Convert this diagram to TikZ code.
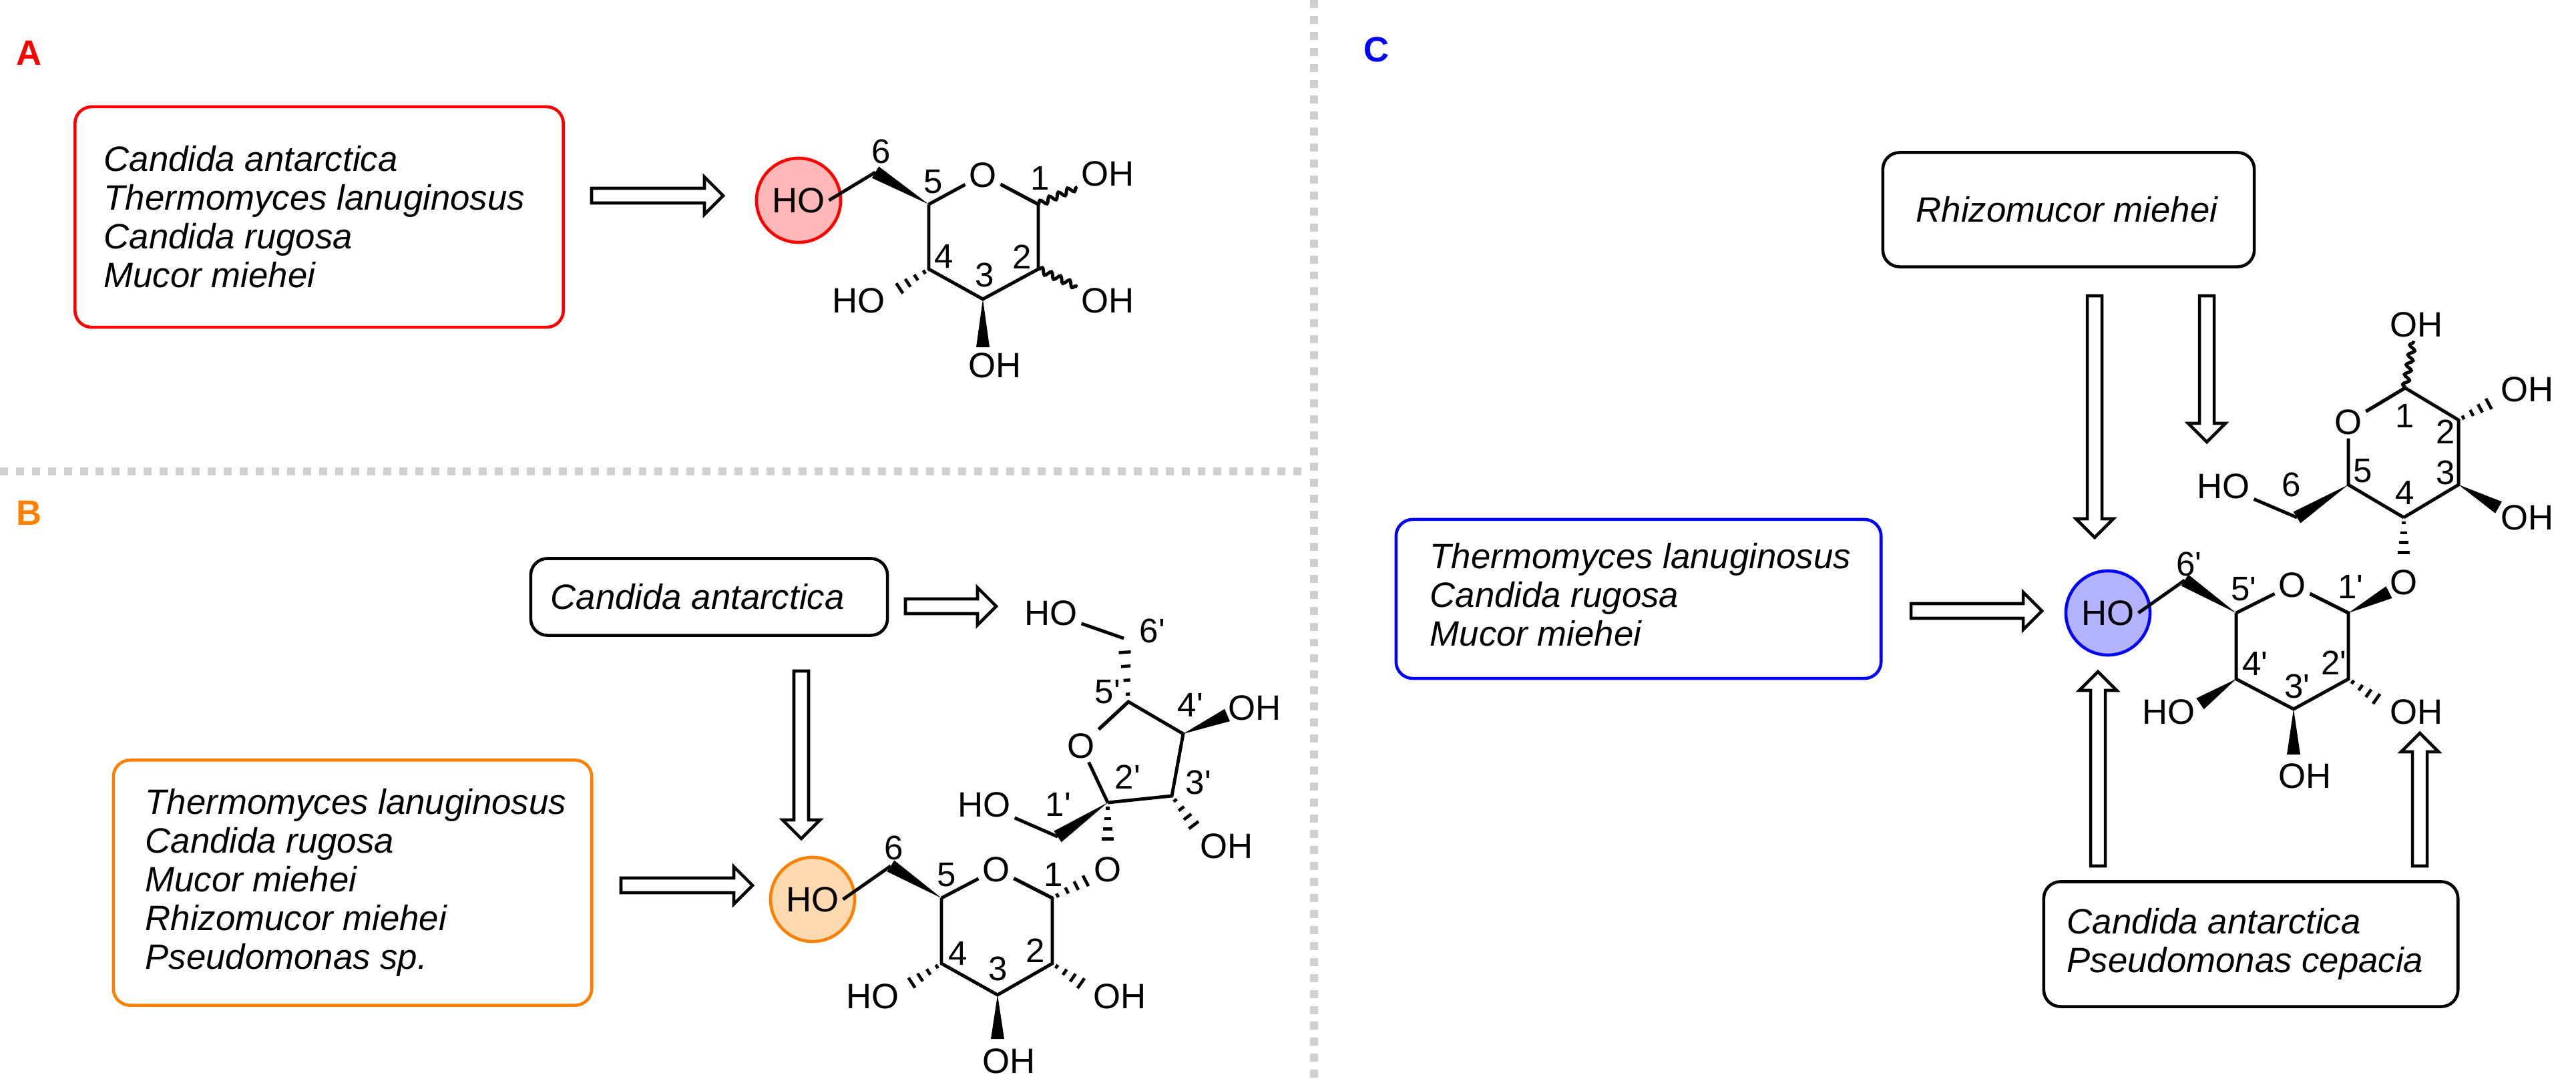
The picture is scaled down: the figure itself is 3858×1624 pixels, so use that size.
\documentclass[tikz,border=0pt]{standalone}
\usepackage{fontspec}
\setmainfont{Liberation Sans}
\usetikzlibrary{calc,decorations.pathmorphing}
\definecolor{redA}{HTML}{FF0000}
\definecolor{pinkA}{HTML}{FFB8B8}
\definecolor{orgB}{HTML}{FF8000}
\definecolor{peachB}{HTML}{FFD9B0}
\definecolor{blueC}{HTML}{0000FF}
\definecolor{lavC}{HTML}{B3B3FF}
\definecolor{divg}{HTML}{D0D0D0}
\newcommand\pr{\textquotesingle}
\newcommand\wdg[2]{\fill (#1) -- ($(#2)!0.1cm!90:(#1)$) -- ($(#2)!0.1cm!-90:(#1)$) -- cycle;}
\newcommand\hsh[2]{\foreach \t in {0.12,0.34,0.56,0.78}{\pgfmathsetmacro\hl{0.02+\t*0.09}\draw[line width=1.3pt] ($(#1)!\t!(#2)!\hl cm!90:(#2)$) -- ($(#1)!\t!(#2)!\hl cm!-90:(#2)$);}}
\newcommand\harr[3]{\begin{scope}[shift={(#1)},rotate=#2]\draw[line width=1.3pt,fill=white] (0,-11) -- ({#3-28},-11) -- ({#3-28},-28) -- (#3,0) -- ({#3-28},28) -- ({#3-28},11) -- (0,11) -- cycle;\end{scope}}
\begin{document}
\begin{tikzpicture}[x=0.01cm,y=-0.01cm,
  bond/.style={line width=1.4pt},
  wavy/.style={line width=1.4pt,decorate,decoration={snake,amplitude=0.045cm,segment length=0.15cm}},
  atom/.style={font=\fontsize{15}{15}\selectfont,inner sep=1.5pt},
  num/.style={font=\fontsize{14.5}{14.5}\selectfont,inner sep=0pt},
  box/.style={draw,line width=1.3pt,rounded corners=0.25cm,inner sep=0pt},
  btxt/.style={align=left,font=\fontsize{15}{16.5}\selectfont\itshape,anchor=west,inner sep=0pt},
  hoc/.style={circle,line width=1.3pt,minimum size=1.26cm,inner sep=0pt},
  lab/.style={font=\fontsize{15}{15}\selectfont\bfseries}]
\useasboundingbox (0,0) rectangle (3858,1624);
% dividers
\draw[divg,line width=3.4pt,dash pattern=on 3.4pt off 3.4pt] (1968,0) -- (1968,1624);
\draw[divg,line width=3.4pt,dash pattern=on 3.4pt off 3.4pt] (0,706) -- (1955,706);
\node[lab,text=redA] (LA) at (44,79) {A};
\node[lab,text=orgB] (LB) at (44,768) {B};
\node[lab,text=blueC] (LC) at (2062,74) {C};
% ---------- A ----------
\node[box,draw=redA,minimum width=7.31cm,minimum height=3.3cm] (boxA) at (478,325) {};
\node[btxt] (tA) at (155,325) {Candida antarctica\\Thermomyces lanuginosus\\Candida rugosa\\Mucor miehei};
\harr{886,293}{0}{197}
\node[hoc,draw=redA,fill=pinkA] (ahoc) at (1196,300) {};
\node[atom] (aho) at (1196,300) {HO};
\coordinate (a6) at (1311,258); \coordinate (a5) at (1391,306);
\coordinate (a1) at (1555,306); \coordinate (a2) at (1555,403);
\coordinate (a3) at (1472,448); \coordinate (a4) at (1391,403);
\node[atom] (ao) at (1472,262) {O};
\node[atom] (aoh1) at (1659,260) {OH};
\node[atom] (aoh2) at (1659,450) {OH};
\node[atom] (aoh3) at (1490,547) {OH};
\node[atom] (aho4) at (1286,450) {HO};
\draw[bond] (aho.east) -- (a6);
\wdg{a5}{a6}
\draw[bond] (a5) -- (ao) -- (a1) -- (a2) -- (a3) -- (a4) -- (a5);
\draw[bond] (a1) -- (ao);
\draw[wavy] (a1) -- (aoh1);
\draw[wavy] (a2) -- (aoh2);
\wdg{a3}{1472,520}
\hsh{a4}{1335,440}
\node[num] at (1320,227) {6}; \node[num] at (1398,272) {5}; \node[num] at (1558,267) {1};
\node[num] at (1531,385) {2}; \node[num] at (1475,412) {3}; \node[num] at (1414,384) {4};
% ---------- B ----------
\node[box,minimum width=5.34cm,minimum height=1.15cm] (boxB1) at (1062,894) {};
\node[btxt] (tB1) at (824,894) {Candida antarctica};
\node[box,draw=orgB,minimum width=7.16cm,minimum height=3.67cm] (boxB2) at (528,1322) {};
\node[btxt] (tB2) at (217,1322) {Thermomyces lanuginosus\\Candida rugosa\\Mucor miehei\\Rhizomucor miehei\\Pseudomonas sp.};
\harr{1356,908}{0}{136}
\harr{1200,1005}{-90}{251}
\harr{930,1326}{0}{197}
\node[hoc,draw=orgB,fill=peachB] (bhoc) at (1217,1347) {};
\node[atom] (bho) at (1217,1347) {HO};
\coordinate (b6) at (1334,1297); \coordinate (b5) at (1410,1345);
\coordinate (b1) at (1576,1345); \coordinate (b2) at (1576,1443);
\coordinate (b3) at (1494,1490); \coordinate (b4) at (1410,1443);
\node[atom] (bo) at (1492,1302) {O};
\node[atom] (bho4) at (1307,1492) {HO};
\node[atom] (boh2) at (1677,1492) {OH};
\node[atom] (boh3) at (1511,1589) {OH};
\node[atom] (bog) at (1659,1302) {O};
\coordinate (b2p) at (1659,1202);
\node[atom] (bor) at (1619,1117) {O};
\coordinate (b5p) at (1690,1051); \coordinate (b4p) at (1772,1099); \coordinate (b3p) at (1755,1192);
\node[atom] (boh4p) at (1879,1060) {OH};
\node[atom] (boh3p) at (1837,1267) {OH};
\coordinate (b1p) at (1584,1253);
\node[atom] (bho1p) at (1474,1205) {HO};
\coordinate (b6p) at (1683,956);
\node[atom] (bho6p) at (1574,918) {HO};
\draw[bond] (bho.east) -- (b6);
\wdg{b5}{b6}
\draw[bond] (b5) -- (bo) -- (b1) -- (b2) -- (b3) -- (b4) -- (b5);
\draw[bond] (b1) -- (bo);
\hsh{b4}{1353,1480}
\hsh{b2}{1631,1481}
\wdg{b3}{1494,1556}
\hsh{b1}{1640,1312}
\hsh{b2p}{1659,1272}
\draw[bond] (b2p) -- (bor) -- (b5p) -- (b4p) -- (b3p) -- (b2p);
\draw[bond] (b5p) -- (bor);
\wdg{b4p}{1838,1071}
\hsh{b3p}{1797,1248}
\wdg{b2p}{b1p}
\draw[bond] (b1p) -- (bho1p);
\hsh{b5p}{b6p}
\draw[bond] (b6p) -- (bho6p);
\node[num] at (1339,1270) {6}; \node[num] at (1418,1310) {5}; \node[num] at (1578,1310) {1};
\node[num] at (1551,1424) {2}; \node[num] at (1495,1451) {3}; \node[num] at (1435,1428) {4};
\node[num] at (1726,945) {6\pr}; \node[num] at (1659,1036) {5\pr}; \node[num] at (1783,1056) {4\pr};
\node[num] at (1689,1164) {2\pr}; \node[num] at (1795,1172) {3\pr}; \node[num] at (1585,1205) {1\pr};
% ---------- C ----------
\node[box,minimum width=5.56cm,minimum height=1.71cm] (boxC1) at (3098,314) {};
\node[btxt] (tC1) at (2869,314) {Rhizomucor miehei};
\node[box,draw=blueC,minimum width=7.26cm,minimum height=2.38cm] (boxC2) at (2454,897) {};
\node[btxt] (tC2) at (2141,891) {Thermomyces lanuginosus\\Candida rugosa\\Mucor miehei};
\node[box,minimum width=6.2cm,minimum height=1.87cm] (boxC3) at (3371,1414) {};
\node[btxt] (tC3) at (3095,1414) {Candida antarctica\\Pseudomonas cepacia};
\harr{2862,915}{0}{196}
\harr{3137,443}{-90}{362}
\harr{3305,443}{-90}{219}
\harr{3142,1297}{90}{291}
\harr{3624,1297}{90}{199}
\node[hoc,draw=blueC,fill=lavC] (choc) at (3157,918) {};
\node[atom] (cho) at (3157,918) {HO};
\coordinate (c6p) at (3272,869); \coordinate (c5p) at (3349,918);
\coordinate (c1p) at (3517,918); \coordinate (c2p) at (3517,1017);
\coordinate (c3p) at (3435,1062); \coordinate (c4p) at (3349,1017);
\node[atom] (cop) at (3433,876) {O};
\node[atom] (cho4p) at (3248,1066) {HO};
\node[atom] (coh3p) at (3452,1162) {OH};
\node[atom] (coh2p) at (3619,1066) {OH};
\node[atom] (cog) at (3600,872) {O};
\coordinate (c4) at (3600,775); \coordinate (c5) at (3517,726);
\coordinate (c1) at (3602,581); \coordinate (c2) at (3682,629); \coordinate (c3) at (3682,726);
\node[atom] (co) at (3517,632) {O};
\node[atom] (coh1) at (3619,486) {OH};
\node[atom] (coh2) at (3785,583) {OH};
\node[atom] (coh3) at (3785,775) {OH};
\coordinate (c6) at (3440,775);
\node[atom] (cho6) at (3330,728) {HO};
\draw[bond] (cho.east) -- (c6p);
\wdg{c5p}{c6p}
\draw[bond] (c5p) -- (cop) -- (c1p) -- (c2p) -- (c3p) -- (c4p) -- (c5p);
\draw[bond] (c1p) -- (cop);
\wdg{c4p}{3295,1054}
\wdg{c3p}{3435,1130}
\hsh{c2p}{3571,1055}
\wdg{c1p}{3578,887}
\hsh{c4}{3600,842}
\draw[bond] (c4) -- (c5) -- (co) -- (c1) -- (c2) -- (c3) -- (c4);
\draw[bond] (c1) -- (co);
\draw[wavy] (c1) -- (coh1);
\hsh{c2}{3740,598}
\wdg{c3}{3742,760}
\wdg{c5}{c6}
\draw[bond] (c6) -- (cho6);
\node[num] at (3602,623) {1}; \node[num] at (3663,647) {2}; \node[num] at (3663,708) {3};
\node[num] at (3602,738) {4}; \node[num] at (3539,705) {5}; \node[num] at (3432,726) {6};
\node[num] at (3278,845) {6\pr}; \node[num] at (3360,882) {5\pr}; \node[num] at (3520,879) {1\pr};
\node[num] at (3495,993) {2\pr}; \node[num] at (3440,1028) {3\pr}; \node[num] at (3377,994) {4\pr};
\end{tikzpicture}
\end{document}
